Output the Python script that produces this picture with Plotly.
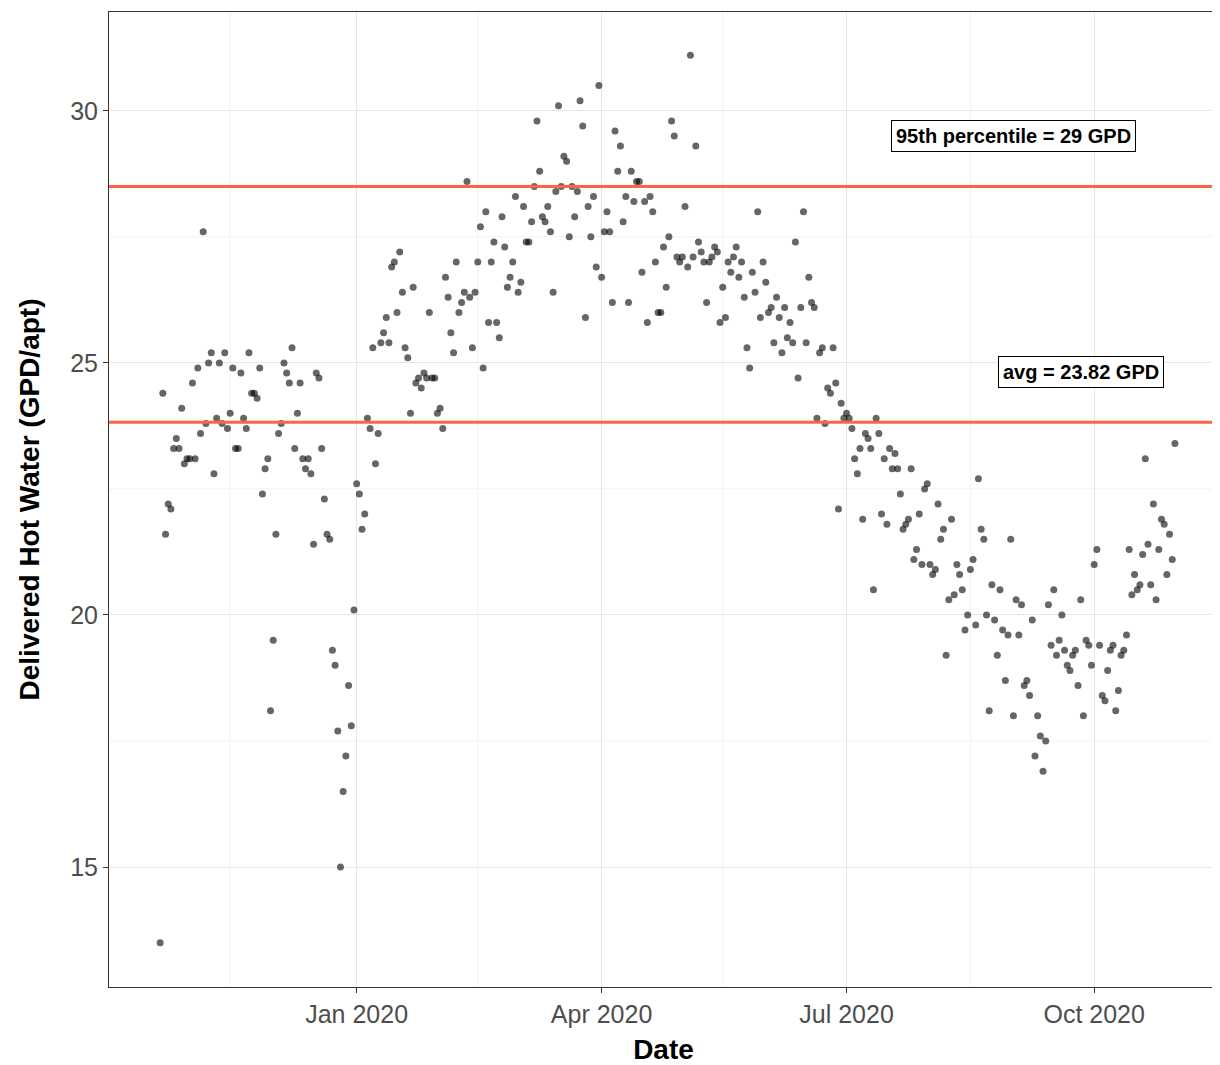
import pandas as pd
import plotly.graph_objects as go

start_date = "2019-10-20"
hot_water = [
    13.5, 24.4, 21.6, 22.2, 22.1, 23.3, 23.5, 23.3, 24.1, 23.0, 23.1, 23.1,
    24.6, 23.1, 24.9, 23.6, 27.6, 23.8, 25.0, 25.2, 22.8, 23.9,
    25.0, 23.8, 25.2, 23.7, 24.0, 24.9, 23.3, 23.3, 24.8, 23.9,
    23.7, 25.2, 24.4, 24.4, 24.3, 24.9, 22.4, 22.9, 23.1, 18.1,
    19.5, 21.6, 23.6, 23.8, 25.0, 24.8, 24.6, 25.3, 23.3, 24.0,
    24.6, 23.1, 22.9, 23.1, 22.8, 21.4, 24.8, 24.7, 23.3, 22.3,
    21.6, 21.5, 19.3, 19.0, 17.7, 15.0, 16.5, 17.2, 18.6, 17.8, 20.1,
    22.6, 22.4, 21.7, 22.0, 23.9, 23.7, 25.3, 23.0, 23.6, 25.4,
    25.6, 25.9, 25.4, 26.9, 27.0, 26.0, 27.2, 26.4, 25.3, 25.1,
    24.0, 26.5, 24.6, 24.7, 24.5, 24.8, 24.7, 26.0, 24.7, 24.7, 24.0,
    24.1, 23.7, 26.7, 26.3, 25.6, 25.2, 27.0, 26.0, 26.2, 26.4,
    28.6, 26.3, 25.3, 26.4, 27.0, 27.7, 24.9, 28.0, 25.8, 27.0,
    27.4, 25.8, 25.5, 27.9, 27.3, 26.5, 26.7, 27.0, 28.3,
    26.4, 26.6, 28.1, 27.4, 27.4, 27.8, 28.5, 29.8, 28.8, 27.9,
    27.8, 28.1, 27.6, 26.4, 28.4, 30.1, 28.5, 29.1, 29.0, 27.5,
    28.5, 27.9, 28.4, 30.2, 29.7, 25.9, 28.1, 27.5, 28.3, 26.9, 30.5,
    26.7, 27.6, 28.0, 27.6, 26.2, 29.6, 28.8, 29.3, 27.8, 28.3,
    26.2, 28.8, 28.2, 28.6, 28.6, 26.8, 28.2, 25.8, 28.3, 28.0,
    27.0, 26.0, 26.0, 27.3, 26.5, 27.5, 29.8, 29.5, 27.1, 27.0,
    27.1, 28.1, 26.9, 31.1, 27.1, 29.3, 27.4, 27.2, 27.0, 26.2,
    27.0, 27.1, 27.3, 27.2, 25.8, 26.5, 25.9, 27.0, 26.8, 27.1,
    27.3, 26.7, 27.0, 26.3, 25.3, 24.9, 26.8, 26.4, 28.0, 25.9, 27.0,
    26.6, 26.0, 26.1, 25.4, 26.3, 25.9, 25.2, 26.1, 25.5, 25.8,
    25.4, 27.4, 24.7, 26.1, 28.0, 25.4, 26.7, 26.2, 26.1, 23.9,
    25.2, 25.3, 23.8, 24.5, 24.4, 25.3, 24.6, 22.1, 24.2, 23.9,
    24.0, 23.9, 23.7, 23.1, 22.8, 23.3, 21.9, 23.6, 23.5, 23.3,
    20.5, 23.9, 23.6, 22.0, 23.1, 21.8, 23.3, 22.9, 23.2, 22.9,
    22.4, 21.7, 21.8, 21.9, 22.9, 21.1, 21.3, 22.0, 21.0, 22.5, 22.6,
    21.0, 20.8, 20.9, 22.2, 21.5, 21.7, 19.2, 20.3, 21.9, 20.4,
    21.0, 20.8, 20.5, 19.7, 20.0, 20.9, 21.1, 19.8, 22.7, 21.7,
    21.5, 20.0, 18.1, 20.6, 19.9, 19.2, 20.5, 19.7, 18.7, 19.6, 21.5,
    18.0, 20.3, 19.6, 20.2, 18.6, 18.7, 18.4, 19.9, 17.2, 18.0,
    17.6, 16.9, 17.5, 20.2, 19.4, 20.5, 19.2, 19.5, 20.0, 19.3,
    19.0, 18.9, 19.2, 19.3, 18.6, 20.3, 18.0, 19.5, 19.4, 19.0,
    21.0, 21.3, 19.4, 18.4, 18.3, 18.9, 19.3, 19.4, 18.1, 18.5,
    19.2, 19.3, 19.6, 21.3, 20.4, 20.8, 20.5, 20.6, 21.2, 23.1,
    21.4, 20.6, 22.2, 20.3, 21.3, 21.9, 21.8, 20.8, 21.6, 21.1, 23.4,
]
avg_gpd = 23.82
p95_gpd = 28.5
x_ticks = ["2020-01-01", "2020-04-01", "2020-07-01", "2020-10-01"]
x_tick_labels = ["Jan 2020", "Apr 2020", "Jul 2020", "Oct 2020"]
x_minor = ["2019-11-15", "2020-02-15", "2020-05-16", "2020-08-16", "2020-11-15"]

dates = pd.date_range(start_date, periods=len(hot_water), freq="D")

fig = go.Figure()
fig.add_trace(go.Scatter(
    x=dates, y=hot_water, mode="markers",
    marker=dict(color="rgba(0,0,0,0.6)", size=7, line=dict(width=0)),
    showlegend=False,
))
for yv in [p95_gpd, avg_gpd]:
    fig.add_hline(y=yv, line=dict(color="#FF6347", width=3))
for xm in x_minor:
    fig.add_vline(x=xm, line=dict(color="#F2F2F2", width=1), layer="below")
for ym in [12.5, 17.5, 22.5, 27.5]:
    fig.add_hline(y=ym, line=dict(color="#F2F2F2", width=1), layer="below")

fig.add_annotation(x="2020-09-01", y=29.5, text="<b>95th percentile = 29 GPD</b>",
                   showarrow=False, bordercolor="black", borderwidth=1, borderpad=4,
                   bgcolor="white", font=dict(size=20, color="black"))
fig.add_annotation(x="2020-09-26", y=24.82, text="<b>avg = 23.82 GPD</b>",
                   showarrow=False, bordercolor="black", borderwidth=1, borderpad=4,
                   bgcolor="white", font=dict(size=20, color="black"))

axis_common = dict(showline=True, linecolor="#333333", mirror=True, ticks="outside",
                   ticklen=5, tickcolor="#333333", gridcolor="#E6E6E6", zeroline=False,
                   automargin=False, tickfont=dict(size=25, color="#4D4D4D"))
fig.update_xaxes(range=["2019-10-01", "2020-11-16"], tickvals=x_ticks, ticktext=x_tick_labels,
                 title=dict(text="<b>Date</b>", font=dict(size=28, color="black"), standoff=13),
                 **axis_common)
fig.update_yaxes(range=[12.62, 31.96], tickvals=[15, 20, 25, 30],
                 title=dict(text="<b>Delivered Hot Water (GPD/apt)</b>", font=dict(size=28, color="black"),
                            standoff=22),
                 **axis_common)
fig.update_layout(width=1212, height=1057, plot_bgcolor="white", paper_bgcolor="white",
                  margin=dict(l=101, r=2, t=4, b=78),
                  font=dict(family="Liberation Sans, Arial"))
fig.write_html("out.html")
